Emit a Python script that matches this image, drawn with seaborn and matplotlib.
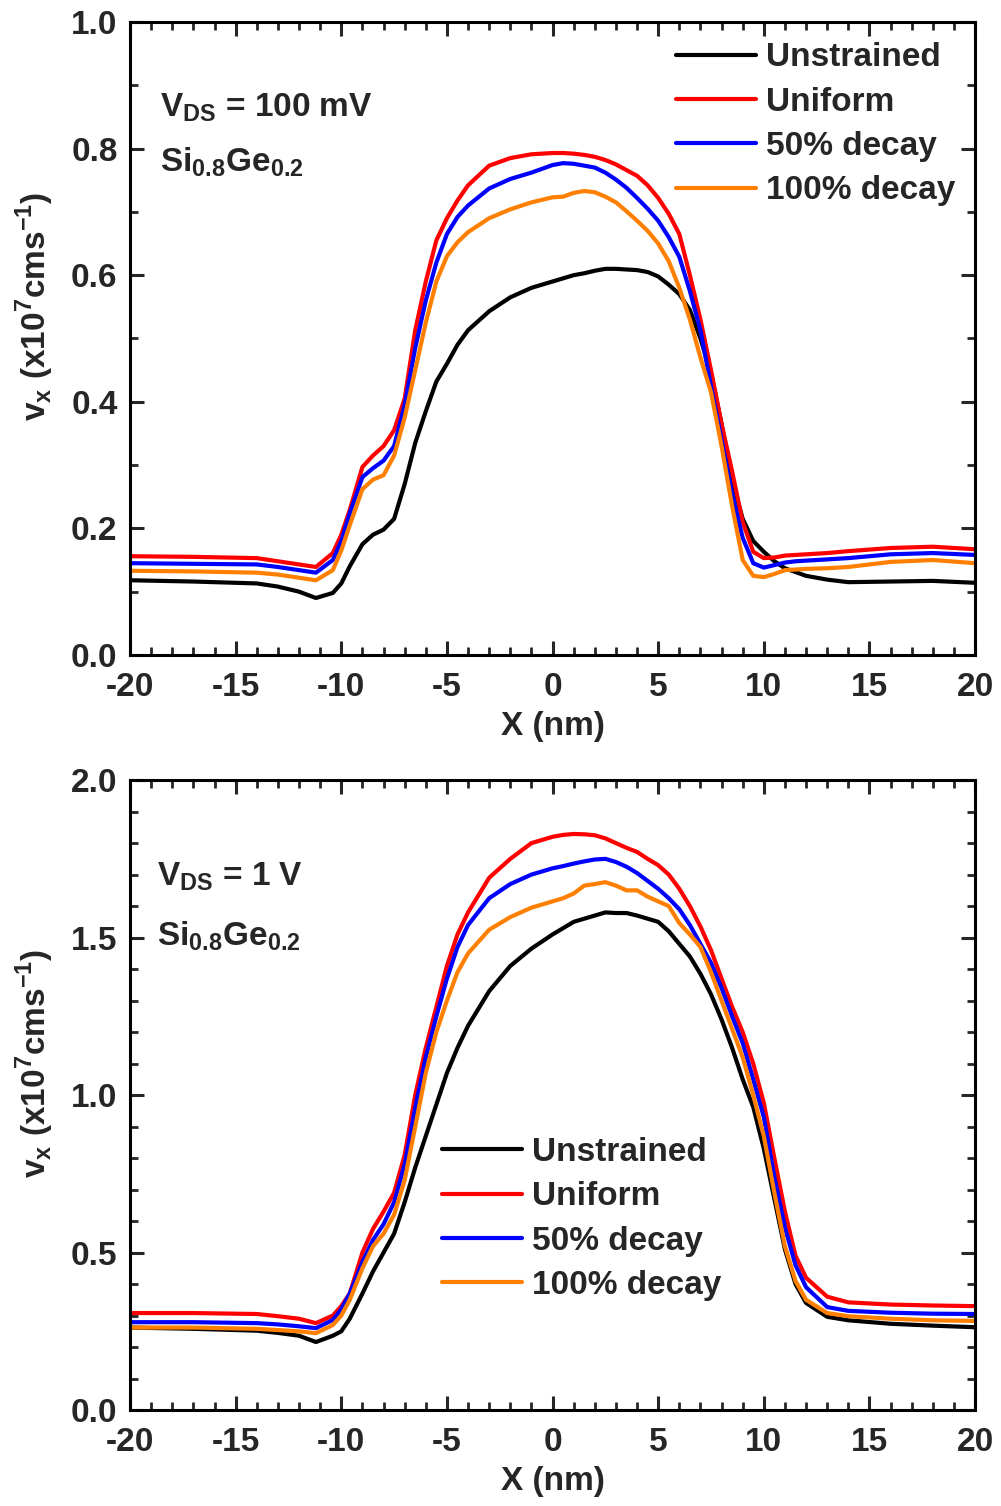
import numpy as np
import pandas as pd
import matplotlib
matplotlib.use('Agg')
import matplotlib.pyplot as plt
from matplotlib.ticker import MultipleLocator
import seaborn as sns

# DATA
x = [-20, -17, -14, -13, -12, -11.2, -10.4, -10, -9.6, -9, -8.5, -8, -7.5, -7, -6.5, -6,
     -5.5, -5, -4.5, -4, -3, -2, -1, 0, 0.5, 1, 1.5, 2, 2.5, 3, 3.5, 4, 4.5, 5, 5.5, 6,
     6.5, 7, 7.5, 8, 8.5, 9, 9.5, 10, 10.5, 11, 11.5, 12, 13, 14, 16, 18, 20]

series = ['Unstrained', 'Uniform', '50% decay', '100% decay']
colors = ['#000000', '#FF0000', '#0000FF', '#FF8000']

# top panel: VDS = 100 mV
top_unstrained = [.118, .116, .113, .108, .100, .090, .098, .113, .140, .175, .190, .198, .215, .270, .335, .385,
                  .432, .460, .490, .513, .543, .565, .580, .590, .595, .600, .603, .607, .610, .610, .609, .608, .605, .598, .585, .570,
                  .545, .500, .445, .365, .276, .215, .180, .163, .148, .137, .131, .125, .119, .115, .116, .117, .114]
top_uniform = [.156, .155, .153, .148, .143, .139, .161, .190, .229, .297, .315, .330, .355, .405, .513, .590,
               .655, .690, .718, .742, .773, .785, .791, .793, .793, .792, .790, .787, .782, .775, .766, .757, .742, .722, .697, .665,
               .600, .530, .450, .365, .290, .210, .163, .153, .154, .157, .158, .159, .161, .164, .169, .171, .167]
top_decay50 = [.145, .144, .143, .139, .134, .130, .150, .180, .224, .281, .295, .307, .330, .395, .485, .560,
               .620, .665, .692, .710, .737, .752, .762, .774, .777, .776, .773, .770, .762, .751, .738, .722, .705, .686, .660, .629,
               .575, .513, .425, .340, .255, .185, .145, .138, .142, .146, .148, .149, .151, .153, .159, .161, .158]
top_decay100 = [.133, .132, .130, .127, .122, .118, .134, .165, .205, .262, .277, .284, .315, .375, .450, .525,
                .590, .630, .652, .668, .690, .704, .715, .723, .724, .730, .733, .731, .724, .715, .701, .686, .670, .650, .622, .580,
                .530, .470, .415, .330, .235, .150, .125, .123, .128, .134, .135, .136, .137, .139, .147, .150, .145]

# bottom panel: VDS = 1 V
bot_unstrained = [.262, .258, .252, .245, .236, .216, .236, .250, .290, .370, .440, .500, .560, .660, .770, .870,
                  .970, 1.07, 1.15, 1.22, 1.33, 1.41, 1.465, 1.51, 1.53, 1.55, 1.56, 1.57, 1.58, 1.578, 1.578, 1.57, 1.56, 1.55, 1.52, 1.48,
                  1.44, 1.385, 1.32, 1.24, 1.15, 1.05, .962, .830, .670, .510, .400, .340, .296, .285, .274, .268, .263]
bot_uniform = [.308, .308, .305, .298, .290, .276, .300, .330, .370, .500, .575, .630, .690, .810, 1.00, 1.15,
               1.28, 1.41, 1.51, 1.58, 1.69, 1.75, 1.80, 1.82, 1.826, 1.829, 1.828, 1.825, 1.815, 1.80, 1.785, 1.772, 1.75, 1.73, 1.70, 1.655,
               1.60, 1.535, 1.46, 1.37, 1.28, 1.20, 1.10, .975, .800, .630, .490, .420, .360, .342, .335, .332, .330]
bot_decay50 = [.279, .279, .276, .272, .266, .260, .286, .320, .370, .470, .540, .590, .660, .780, .960, 1.12,
               1.25, 1.37, 1.47, 1.54, 1.625, 1.67, 1.70, 1.72, 1.727, 1.735, 1.742, 1.748, 1.75, 1.74, 1.725, 1.705, 1.68, 1.655, 1.625, 1.59,
               1.54, 1.48, 1.42, 1.34, 1.25, 1.165, 1.05, .930, .740, .580, .460, .390, .327, .315, .309, .306, .305]
bot_decay100 = [.262, .262, .258, .254, .250, .244, .270, .300, .350, .450, .520, .560, .620, .730, .900, 1.07,
                1.20, 1.30, 1.39, 1.45, 1.525, 1.565, 1.595, 1.615, 1.625, 1.640, 1.665, 1.670, 1.676, 1.665, 1.650, 1.650, 1.630, 1.615, 1.600, 1.546,
                1.510, 1.470, 1.390, 1.300, 1.210, 1.120, 1.000, .870, .690, .520, .410, .350, .308, .298, .290, .285, .283]


def long_frame(cols):
    parts = []
    for name, vals in zip(series, cols):
        parts.append(pd.DataFrame({'x': x, 'v': vals, 'series': name}))
    return pd.concat(parts, ignore_index=True)


top = long_frame([top_unstrained, top_uniform, top_decay50, top_decay100])
bot = long_frame([bot_unstrained, bot_uniform, bot_decay50, bot_decay100])

# STYLE
sns.set_theme(style='ticks')
plt.rcParams['font.family'] = ['Liberation Sans', 'DejaVu Sans']
plt.rcParams['font.weight'] = 'bold'
plt.rcParams['axes.labelweight'] = 'bold'
plt.rcParams['axes.unicode_minus'] = False
plt.rcParams['mathtext.fontset'] = 'custom'
plt.rcParams['mathtext.rm'] = 'Liberation Sans:bold'
plt.rcParams['mathtext.bf'] = 'Liberation Sans:bold'

FS = 24
fig = plt.figure(figsize=(10.01, 15.06), dpi=100)
ax1 = fig.add_axes([0.1299, 0.5651, 0.8442, 0.4203])
ax2 = fig.add_axes([0.1299, 0.0637, 0.8442, 0.4183])

palette = dict(zip(series, colors))

for ax, df, ymax, ymaj, leg_xy, notes in [
    (ax1, top, 1.0, 0.2, (0.614, 1.01), ('V$_\\mathregular{DS}$ = 100 mV', 0.864, 0.778, 0.035)),
    (ax2, bot, 2.0, 0.5, (0.338, 0.476), ('V$_\\mathregular{DS}$ = 1 V', 0.846, 0.752, 0.032)),
]:
    sns.lineplot(data=df, x='x', y='v', hue='series', hue_order=series,
                 palette=palette, linewidth=3, estimator=None, sort=False, ax=ax)
    ax.set_xlim(-20, 20)
    ax.set_ylim(0, ymax)
    ax.xaxis.set_major_locator(MultipleLocator(5))
    ax.xaxis.set_minor_locator(MultipleLocator(1))
    ax.yaxis.set_major_locator(MultipleLocator(ymaj))
    ax.yaxis.set_minor_locator(MultipleLocator(0.1))
    ax.tick_params(which='both', direction='in', top=True, right=True, labelsize=FS)
    ax.tick_params(axis='x', pad=12)
    ax.tick_params(axis='y', pad=9)
    ax.tick_params(which='major', length=10, width=2.2)
    ax.tick_params(which='minor', length=6, width=2)
    for s in ax.spines.values():
        s.set_linewidth(2.2)
        s.set_color('black')
    for lab in ax.get_xticklabels() + ax.get_yticklabels():
        lab.set_fontweight('bold')

    ax.set_xlabel('X (nm)', fontsize=FS, fontweight='bold', labelpad=6)
    ax.set_ylabel('v$_\\mathregular{x}$ (x10$^\\mathregular{7}$cms$^\\mathregular{-1}$)',
                  fontsize=FS, fontweight='bold')
    ax.yaxis.set_label_coords(-0.088, 0.55)

    old = ax.get_legend()
    handles = old.legend_handles
    labels = [t.get_text() for t in old.get_texts()]
    for h in handles:
        h.set_linewidth(3)
    ax.legend(handles, labels, loc='upper left', bbox_to_anchor=leg_xy, frameon=False,
              prop={'size': FS, 'weight': 'bold'}, handlelength=2.4, handletextpad=0.3,
              labelspacing=0.4, borderpad=0.3)

    txt, y1, y2, xt = notes
    ax.text(xt, y1, txt, transform=ax.transAxes, fontsize=FS, fontweight='bold', va='center')
    ax.text(xt, y2, 'Si$_\\mathregular{0.8}$Ge$_\\mathregular{0.2}$', transform=ax.transAxes,
            fontsize=FS, fontweight='bold', va='center')

fig.savefig('out.png', dpi=100)
